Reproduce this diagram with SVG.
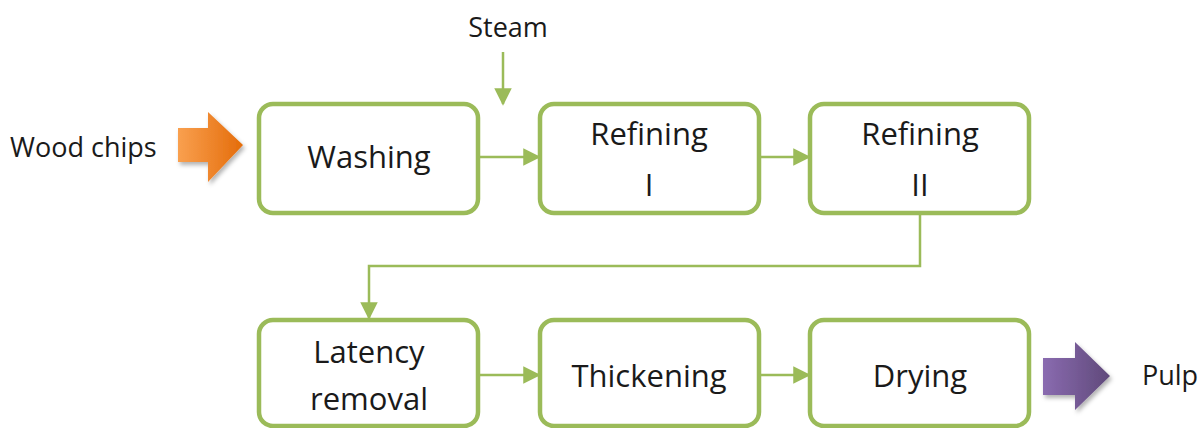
<svg xmlns="http://www.w3.org/2000/svg" width="1199" height="428" viewBox="0 0 1199 428">
  <style>
    .box { fill: #ffffff; stroke: #9BBB59; stroke-width: 4.5; }
    .node-text { font-family: "Open Sans", "Liberation Sans", sans-serif; font-size: 31px; fill: #1a1a1a; text-anchor: middle; }
    .label { font-family: "Open Sans", "Liberation Sans", sans-serif; font-size: 27px; fill: #1a1a1a; }
    .link { fill: none; stroke: #9BBB59; stroke-width: 2.5; marker-end: url(#head); }
  </style>
  <defs>
    <marker id="head" viewBox="0 0 10 10" refX="9" refY="5" markerWidth="7" markerHeight="7" markerUnits="strokeWidth" orient="auto">
      <path d="M0,0 L10,5 L0,10 z" fill="#9BBB59"/>
    </marker>
    <linearGradient id="orange" x1="0" y1="0" x2="1" y2="0">
      <stop offset="0" stop-color="#F9A04F"/>
      <stop offset="1" stop-color="#E46C0A"/>
    </linearGradient>
    <linearGradient id="purple" x1="0" y1="0" x2="1" y2="0">
      <stop offset="0" stop-color="#8A6BB0"/>
      <stop offset="1" stop-color="#5F497A"/>
    </linearGradient>
    <filter id="shadow" x="-20%" y="-20%" width="150%" height="150%">
      <feDropShadow dx="2" dy="3" stdDeviation="2" flood-color="#000000" flood-opacity="0.3"/>
    </filter>
  </defs>

  <!-- inputs and outputs -->
  <text class="label" x="10" y="157">Wood chips</text>
  <path d="M178,128 H208 V112 L243,145 L208,182 V162 H178 z" fill="url(#orange)" filter="url(#shadow)"/>
  <text class="label" x="508" y="37" text-anchor="middle">Steam</text>
  <text class="label" x="1142" y="385">Pulp</text>
  <path d="M1043,358 H1075 V342 L1110,376 L1075,410 V395 H1043 z" fill="url(#purple)" filter="url(#shadow)"/>

  <!-- connectors -->
  <g id="connectors">
    <path class="link" d="M503,52 V104"/>
    <path class="link" d="M480,157 H539"/>
    <path class="link" d="M760,157 H809"/>
    <path class="link" d="M920,215 V266 H369 V318"/>
    <path class="link" d="M480,375 H539"/>
    <path class="link" d="M760,375 H809"/>
  </g>

  <g id="washing">
    <rect class="box" x="259" y="104" width="219" height="109" rx="14"/>
    <text class="node-text" x="369" y="168">Washing</text>
  </g>
  <g id="refining-1">
    <rect class="box" x="540" y="104" width="219" height="109" rx="14"/>
    <text class="node-text" x="649" y="145">Refining</text>
    <text class="node-text" x="649" y="196">I</text>
  </g>
  <g id="refining-2">
    <rect class="box" x="810" y="104" width="219" height="109" rx="14"/>
    <text class="node-text" x="920" y="145">Refining</text>
    <text class="node-text" x="920" y="196">II</text>
  </g>
  <g id="latency-removal">
    <rect class="box" x="259" y="320" width="219" height="106" rx="14"/>
    <text class="node-text" x="369" y="363">Latency</text>
    <text class="node-text" x="369" y="410">removal</text>
  </g>
  <g id="thickening">
    <rect class="box" x="540" y="320" width="219" height="106" rx="14"/>
    <text class="node-text" x="649" y="387">Thickening</text>
  </g>
  <g id="drying">
    <rect class="box" x="810" y="320" width="219" height="106" rx="14"/>
    <text class="node-text" x="920" y="387">Drying</text>
  </g>
</svg>
